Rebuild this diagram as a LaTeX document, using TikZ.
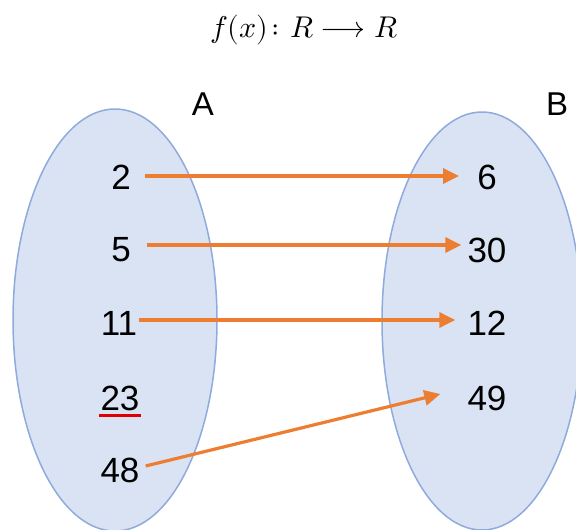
\documentclass[tikz,border=0pt]{standalone}
\usepackage{fontspec}
\setmainfont{Liberation Sans}
\usepackage{unicode-math}
\setmathfont{Latin Modern Math}
\usetikzlibrary{arrows.meta}
\definecolor{setfill}{HTML}{DAE3F3}
\definecolor{setdraw}{HTML}{8FAADC}
\definecolor{arrcol}{HTML}{ED7D31}
\definecolor{ulred}{HTML}{E00000}
\begin{document}
\begin{tikzpicture}[x=1pt,y=-1pt,
  setshape/.style={fill=setfill,draw=setdraw,line width=1.5pt},
  num/.style={inner sep=0pt,font=\fontsize{35}{40}\selectfont},
  lbl/.style={inner sep=0pt,font=\fontsize{33}{38}\selectfont},
  arr/.style={draw=arrcol,line width=3.2pt,-{Triangle[length=16pt,width=15pt]}}]
\useasboundingbox (0,0) rectangle (576,530);
\draw[setshape] (115,320) ellipse [x radius=102, y radius=211];
\draw[setshape] (482,321) ellipse [x radius=100, y radius=209];
\node[inner sep=0pt,font=\fontsize{30}{34}\selectfont] (title) at (304,30) {$f(x)\colon R\longrightarrow R$};
\node[lbl] (A) at (203,104) {A};
\node[lbl] (B) at (557,104) {B};
\node[num] (n2) at (121,177) {2};
\node[num] (n5) at (121,250) {5};
\node[num] (n11) at (119,323) {11};
\node[num] (n23) at (120,398) {23};
\node[num] (n48) at (120,470) {48};
\node[num] (n6) at (487,177) {6};
\node[num] (n30) at (487,250) {30};
\node[num] (n12) at (487,323) {12};
\node[num] (n49) at (487,398) {49};
\draw[ulred,line width=2.6pt] ([xshift=-1pt,yshift=-5pt]n23.south west) -- ([xshift=1pt,yshift=-5pt]n23.south east);
\draw[arr] ([xshift=14pt,yshift=1pt]n2.east) -- ([xshift=-18pt,yshift=1pt]n6.west);
\draw[arr] ([xshift=16pt,yshift=5pt]n5.east) -- ([xshift=-6pt,yshift=5pt]n30.west);
\draw[arr] ([xshift=2pt,yshift=3pt]n11.east) -- ([xshift=-12pt,yshift=3pt]n12.west);
\draw[arr] ([xshift=6pt,yshift=4pt]n48.east) -- ([xshift=-27pt,yshift=4pt]n49.west);
\end{tikzpicture}
\end{document}
